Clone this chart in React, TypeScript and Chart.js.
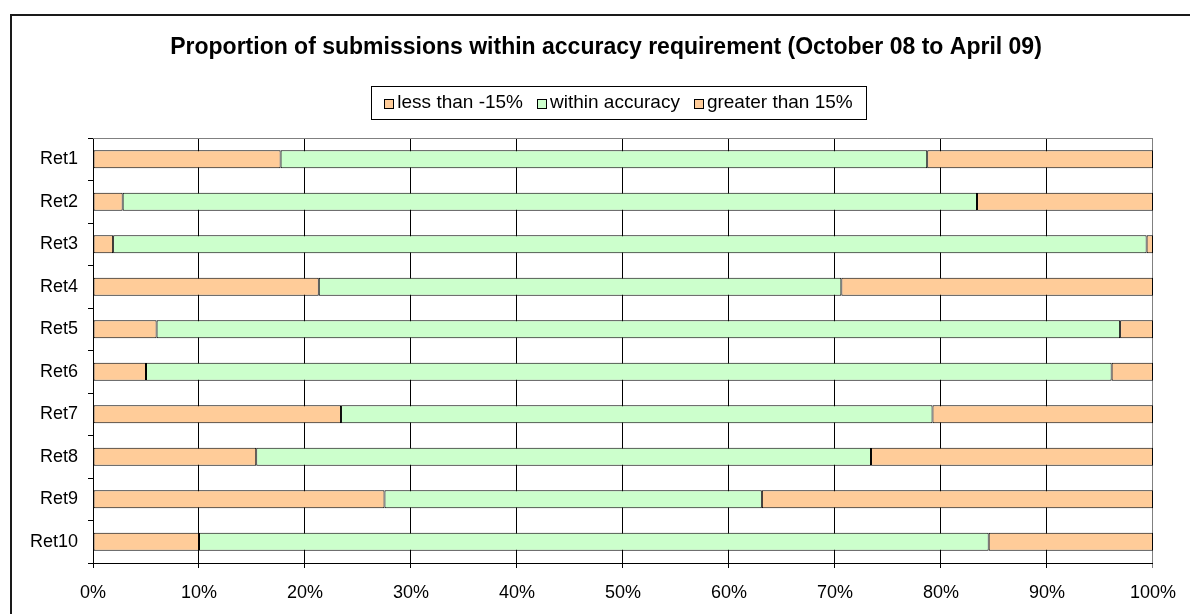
import React, { useEffect, useRef } from 'react';
import { Chart, registerables } from 'chart.js';

Chart.register(...registerables);

const titleText = 'Proportion of submissions within accuracy requirement (October 08 to April 09)';
const categories = ['Ret1', 'Ret2', 'Ret3', 'Ret4', 'Ret5', 'Ret6', 'Ret7', 'Ret8', 'Ret9', 'Ret10'];
const seriesNames = ['less than -15%', 'within accuracy', 'greater than 15%'];
const lessThan = [17.7, 2.8, 1.9, 21.3, 6.0, 5.0, 23.4, 15.4, 27.5, 10.0];
const withinAccuracy = [61.0, 80.6, 97.5, 49.3, 90.9, 91.1, 55.8, 58.0, 35.6, 74.5];
const greaterThan = [21.3, 16.6, 0.6, 29.4, 3.1, 3.9, 20.8, 26.6, 36.9, 15.5];
const xTickStep = 10;

const ORANGE = '#FFCC99';
const GREEN = '#CCFFCC';
const FONT = '"Liberation Sans", Arial, Helvetica, sans-serif';

export default function App() {
  const ref = useRef<HTMLCanvasElement | null>(null);

  useEffect(() => {
    const canvas = ref.current;
    if (!canvas) return;

    const framePlugin = {
      id: 'frame',
      beforeDraw(chart: any) {
        const ctx = chart.ctx;
        ctx.save();
        ctx.fillStyle = '#ffffff';
        ctx.fillRect(0, 0, chart.width, chart.height);
        ctx.strokeStyle = '#1a1a1a';
        ctx.lineWidth = 2;
        ctx.strokeRect(11, 15, chart.width + 20, chart.height + 20);
        ctx.restore();
      },
    };

    const plotBorderPlugin = {
      id: 'plotBorder',
      afterDatasetsDraw(chart: any) {
        const { ctx, chartArea } = chart;
        ctx.save();
        ctx.strokeStyle = '#808080';
        ctx.lineWidth = 1;
        ctx.beginPath();
        ctx.moveTo(chartArea.left, Math.round(chartArea.top) + 0.5);
        ctx.lineTo(chartArea.right, Math.round(chartArea.top) + 0.5);
        ctx.stroke();
        ctx.restore();
      },
    };

    const headerPlugin = {
      id: 'header',
      afterDraw(chart: any) {
        const ctx = chart.ctx;
        ctx.save();
        ctx.fillStyle = '#000';
        ctx.font = `bold 23px ${FONT}`;
        ctx.textAlign = 'center';
        ctx.textBaseline = 'middle';
        ctx.fillText(titleText, 606, 48);

        const boxL = 371, boxR = 866, boxT = 86, boxB = 119;
        ctx.strokeStyle = '#000';
        ctx.lineWidth = 1;
        ctx.strokeRect(boxL + 0.5, boxT + 0.5, boxR - boxL, boxB - boxT);

        ctx.font = `19px ${FONT}`;
        const sq = 9, sqGap = 4, itemGap = 14;
        const datasets = chart.data.datasets;
        const widths = datasets.map((d: any) => ctx.measureText(d.label).width);
        const total = widths.reduce((a: number, b: number) => a + b, 0) + datasets.length * (sq + sqGap) + (datasets.length - 1) * itemGap;
        let x = (boxL + boxR) / 2 - total / 2;
        const cy = (boxT + boxB) / 2 + 0.5;
        ctx.textAlign = 'left';
        datasets.forEach((d: any, i: number) => {
          ctx.fillStyle = d.backgroundColor;
          ctx.fillRect(Math.round(x) + 0.5, Math.round(cy - sq / 2) + 0.5, sq, sq);
          ctx.strokeStyle = '#000';
          ctx.strokeRect(Math.round(x) + 0.5, Math.round(cy - sq / 2) + 0.5, sq, sq);
          x += sq + sqGap;
          ctx.fillStyle = '#000';
          ctx.fillText(d.label, x, cy);
          x += widths[i] + itemGap;
        });
        ctx.restore();
      },
    };

    const chart = new Chart(canvas, {
      type: 'bar',
      data: {
        labels: categories,
        datasets: [
          { label: seriesNames[0], data: lessThan, backgroundColor: ORANGE },
          { label: seriesNames[1], data: withinAccuracy, backgroundColor: GREEN },
          { label: seriesNames[2], data: greaterThan, backgroundColor: ORANGE },
        ].map((d) => ({
          ...d,
          borderColor: '#000',
          borderWidth: 1,
          borderSkipped: false,
          barPercentage: 0.42,
          categoryPercentage: 1,
        })),
      },
      options: {
        indexAxis: 'y',
        responsive: false,
        animation: false,
        devicePixelRatio: 1,
        layout: { padding: { top: 138, right: 37, bottom: 0, left: 0 } },
        plugins: {
          legend: { display: false },
          title: { display: false },
          tooltip: { enabled: false },
        },
        scales: {
          x: {
            type: 'linear',
            stacked: true,
            min: 0,
            max: 100,
            position: 'bottom',
            ticks: {
              stepSize: xTickStep,
              callback: (v: any) => `${v}%`,
              color: '#000',
              font: { family: FONT, size: 18 },
              padding: 14,
              maxRotation: 0,
              autoSkip: false,
            },
            grid: {
              color: (c: any) => (c.tick && c.tick.value === 100 ? '#808080' : '#000'),
              lineWidth: 1,
              tickLength: 5,
              drawTicks: true,
            },
            border: { color: '#000', width: 1 },
            afterFit: (s: any) => {
              s.height = 51;
            },
          },
          y: {
            type: 'category',
            stacked: true,
            ticks: {
              color: '#000',
              font: { family: FONT, size: 18 },
              padding: 10,
              autoSkip: false,
            },
            grid: {
              offset: true,
              drawOnChartArea: false,
              tickLength: 5,
              color: '#000',
            },
            border: { color: '#000', width: 1 },
            afterFit: (s: any) => {
              s.width = 93;
            },
          },
        },
      },
      plugins: [framePlugin, plotBorderPlugin, headerPlugin],
    } as any);

    return () => chart.destroy();
  }, []);

  return (
    <div style={{ position: 'fixed', left: 0, top: 0, width: 1190, height: 614, background: '#fff' }}>
      <canvas ref={ref} width={1190} height={614} style={{ display: 'block', width: 1190, height: 614 }} />
    </div>
  );
}
